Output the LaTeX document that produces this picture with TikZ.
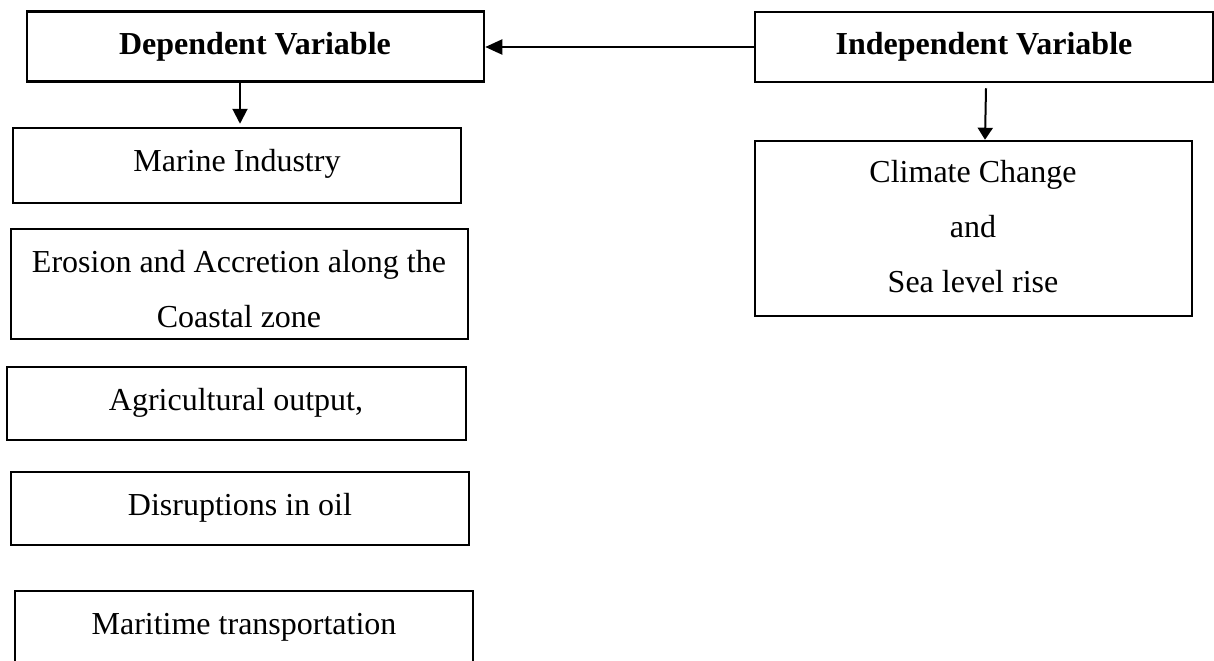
\documentclass[tikz,border=0pt]{standalone}
\usepackage{fontspec}
\setmainfont{Liberation Serif}
\usetikzlibrary{arrows.meta}
\tikzset{
  box/.style={draw, line width=1.25pt, inner sep=0pt},
  txt/.style={font=\fontsize{16}{27.5}\selectfont, inner sep=0pt, anchor=base, align=center},
  arr/.style={-{Triangle[length=7.5pt,width=7.5pt]}, line width=1pt},
}
\begin{document}
\begin{tikzpicture}[x=0.5pt,y=-0.5pt]
\clip (0,0) rectangle (1214,660);
% boxes (sizes in pt)
\node[box, minimum width=228.5pt, minimum height=35pt] (dep) at (255.5,46.5) {};
\node[box, minimum width=229pt, minimum height=35pt] (ind) at (984,47) {};
\node[box, minimum width=224pt, minimum height=37.5pt] (marine) at (237,165.5) {};
\node[box, minimum width=228.5pt, minimum height=55pt] (erosion) at (239.5,284) {};
\node[box, line width=1.4pt, minimum width=229.5pt, minimum height=36.5pt] (agri) at (236.5,403.5) {};
\node[box, minimum width=229pt, minimum height=36.5pt] (disr) at (240,508.5) {};
\node[box, minimum width=229pt, minimum height=50pt] (mari) at (244,641) {};
\node[box, minimum width=218.5pt, minimum height=87.5pt] (climate) at (973.5,228.5) {};
% texts (multi-line texts are anchored at the baseline of their last line)
\node[txt, font=\fontsize{16}{27.5}\selectfont\bfseries] (deptext) at (255,54) {Dependent Variable};
\node[txt, font=\fontsize{16}{27.5}\selectfont\bfseries] (indtext) at (984,54) {Independent Variable};
\node[txt] (marinetext) at (237,171) {Marine Industry};
\node[txt] (erosiontext) at (239,327) {Erosion and Accretion along the\\Coastal zone};
\node[txt] (agritext) at (236,410) {Agricultural output,};
\node[txt] (disrtext) at (240,515) {Disruptions in oil};
\node[txt] (maritext) at (244,634) {Maritime transportation};
\node[txt] (climatetext) at (973,292) {Climate Change\\and\\Sea level rise};
% connectors
\draw[arr, -{Triangle[length=8.5pt,width=7.5pt]}] (ind.west) -- (dep.east |- ind.west);
\draw[arr] ([xshift=-7.75pt]dep.south) -- ([xshift=1.5pt,yshift=1.5pt]marine.north);
\draw[arr, -{Triangle[length=6pt,width=7.5pt]}] ([xshift=1pt,yshift=-2.5pt]ind.south) -- ([xshift=5.75pt]climate.north);
\end{tikzpicture}
\end{document}
